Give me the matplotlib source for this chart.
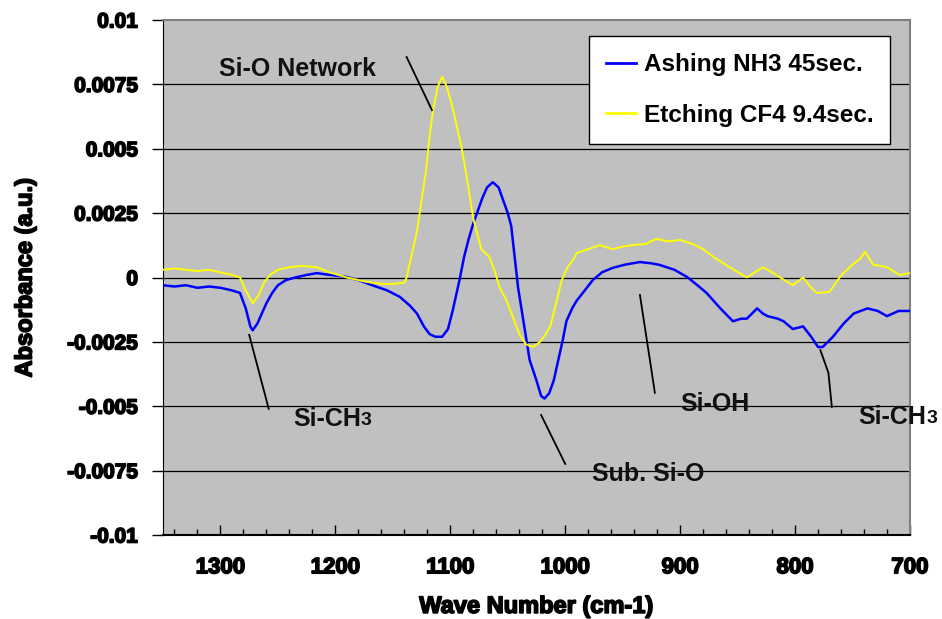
import matplotlib
matplotlib.use("Agg")
import matplotlib.pyplot as plt
import matplotlib.patheffects as pe
import numpy as np

# ── FTIR difference spectra ───────────────────────────────────────────────────
ash_wn = [1350, 1340, 1330, 1320, 1310, 1300, 1290, 1283, 1278, 1274, 1272, 1268,
          1264, 1260, 1255, 1250, 1243, 1235, 1225, 1216, 1205, 1195, 1190, 1180,
          1168, 1155, 1144, 1135, 1129, 1123, 1118, 1113, 1107, 1102, 1098, 1095,
          1092, 1088, 1084, 1080, 1076, 1072, 1068, 1063, 1058, 1054, 1050, 1047,
          1044, 1041, 1036, 1031, 1025, 1021, 1018, 1014, 1010, 1006, 1002, 999,
          994, 990, 983, 976, 968, 959, 948, 935, 925, 918, 905, 894, 885, 877,
          865, 854, 847, 842, 833, 828, 824, 815, 810, 802, 793, 786, 780, 776,
          767, 758, 749, 737, 728, 720, 710, 700]
ash_abs = [-0.0003, -0.00035, -0.0003, -0.0004, -0.00035, -0.0004, -0.0005, -0.0006,
           -0.0012, -0.0019, -0.00205, -0.0018, -0.0014, -0.001, -0.0006, -0.0003,
           -0.0001, 0.0, 0.0001, 0.00017, 0.0001, 0.00005, 0.00002, -0.0001,
           -0.0003, -0.0005, -0.00075, -0.0011, -0.0014, -0.0019, -0.0022, -0.0023,
           -0.0023, -0.002, -0.0013, -0.0007, -0.0001, 0.0008, 0.0015, 0.0021, 0.0026,
           0.0031, 0.0035, 0.0037, 0.0035, 0.003, 0.0025, 0.002, 0.0008, -0.0004,
           -0.0018, -0.0032, -0.004, -0.0046, -0.0047, -0.0045, -0.004, -0.0032,
           -0.0024, -0.0017, -0.0012, -0.0009, -0.0005, -0.0001, 0.0002, 0.00037,
           0.0005, 0.0006, 0.00055, 0.00049, 0.0003, 0.00002, -0.0003, -0.0006,
           -0.0012, -0.0017, -0.0016, -0.0016, -0.0012, -0.0014, -0.0015, -0.0016,
           -0.0017, -0.002, -0.0019, -0.0023, -0.0027, -0.0027, -0.0023, -0.0018,
           -0.0014, -0.0012, -0.0013, -0.0015, -0.0013, -0.0013]

etch_wn = [1350, 1340, 1330, 1320, 1310, 1300, 1290, 1283, 1278, 1272, 1267, 1262,
           1257, 1250, 1240, 1229, 1216, 1205, 1190, 1180, 1173, 1160, 1150, 1140,
           1138, 1134, 1129, 1125, 1121, 1118, 1115, 1111, 1107, 1103, 1098, 1094,
           1090, 1085, 1080, 1076, 1073, 1066, 1061, 1057, 1051, 1045, 1040, 1034,
           1028, 1022, 1017, 1013, 1008, 1003, 998, 993, 990, 980, 970, 959, 950,
           941, 930, 921, 910, 900, 889, 880, 871, 857, 842, 835, 828, 820, 813,
           802, 793, 786, 781, 770, 763, 758, 750, 744, 739, 735, 732, 720, 709, 700]
etch_abs = [0.0003, 0.00035, 0.0003, 0.00025, 0.0003, 0.0002, 0.0001, 0.0, -0.0005,
            -0.001, -0.0007, -0.0002, 0.0001, 0.0003, 0.0004, 0.00045, 0.0004, 0.0002,
            0.0, -0.0001, -0.00017, -0.00025, -0.00025, -0.0002, 0.0, 0.0008, 0.0018,
            0.003, 0.0042, 0.0055, 0.0065, 0.0074, 0.0078, 0.0074, 0.0066, 0.0058,
            0.005, 0.0037, 0.0023, 0.0016, 0.0011, 0.0008, 0.0002, -0.0004, -0.0009,
            -0.0016, -0.0022, -0.0026, -0.0027, -0.0025, -0.0022, -0.0019, -0.001,
            -0.0001, 0.0004, 0.0007, 0.00095, 0.0011, 0.00126, 0.0011, 0.0012, 0.00126,
            0.0013, 0.0015, 0.0014, 0.00146, 0.0013, 0.0011, 0.0008, 0.0004, 0.0,
            0.0002, 0.0004, 0.0002, 0.0, -0.0003, 0.0, -0.0004, -0.0006, -0.00056,
            -0.0001, 0.00017, 0.0005, 0.0007, 0.001, 0.0007, 0.0005, 0.0004, 0.0001,
            0.00017]

series_labels = ["Ashing NH3 45sec.", "Etching CF4 9.4sec."]
x_ticks = [1300, 1200, 1100, 1000, 900, 800, 700]
y_ticks = [0.01, 0.0075, 0.005, 0.0025, 0, -0.0025, -0.005, -0.0075, -0.01]
y_tick_labels = ["0.01", "0.0075", "0.005", "0.0025", "0",
                 "-0.0025", "-0.005", "-0.0075", "-0.01"]

plt.rcParams["font.family"] = ["Liberation Sans", "DejaVu Sans"]
heavy = [pe.withStroke(linewidth=1.2, foreground="black")]

fig = plt.figure(figsize=(9.42, 6.19), dpi=100)
ax = fig.add_axes([163 / 942, 1 - 535 / 619, 747 / 942, 515 / 619])
ax.set_facecolor("#C0C0C0")

for y in y_ticks[1:-1]:
    ax.axhline(y, color="black", lw=0.9, zorder=1)

ax.plot(ash_wn, ash_abs, color="#0000FF", lw=1.8, label=series_labels[0], zorder=3)
ax.plot(etch_wn, etch_abs, color="#FFFF00", lw=1.4, label=series_labels[1], zorder=3)

ax.set_xlim(1350, 700)
ax.set_ylim(-0.01, 0.01)

ax.set_xticks(x_ticks)
ax.set_xticks(np.arange(700, 1351, 20), minor=True)
ax.tick_params(axis="x", which="major", direction="in", length=7, width=1, pad=16,
               labelsize=16)
ax.tick_params(axis="x", which="minor", direction="in", length=4, width=1)
ax.set_yticks(y_ticks, y_tick_labels)
ax.tick_params(axis="y", direction="out", length=8, width=1, pad=10, labelsize=15)
for lab in ax.get_xticklabels() + ax.get_yticklabels():
    lab.set_fontweight("bold")
    lab.set_path_effects(heavy)

ax.spines["left"].set_color("black")
ax.spines["bottom"].set_color("black")
ax.spines["bottom"].set_linewidth(1.5)
ax.spines["top"].set_color("#808080")
ax.spines["right"].set_color("#808080")
ax.spines["top"].set_linewidth(1.5)
ax.spines["right"].set_linewidth(1.5)

ax.set_xlabel("Wave Number (cm-1)", fontsize=17, fontweight="bold", labelpad=12,
              path_effects=heavy)
ax.set_ylabel("Absorbance (a.u.)", fontsize=17, fontweight="bold", labelpad=22,
              path_effects=heavy)

leg = ax.legend(loc="upper left", bbox_to_anchor=(589 / 942, 1 - 36 / 619),
                bbox_transform=fig.transFigure, borderaxespad=0, frameon=True,
                fancybox=False, edgecolor="black", facecolor="white", framealpha=1,
                prop={"size": 17.5, "weight": "bold"}, handlelength=1.25,
                handletextpad=0.3, borderpad=0.7, labelspacing=1.15)
leg.get_frame().set_linewidth(1.0)
for line in leg.get_lines():
    line.set_linewidth(2.0)

# ── Peak assignments with leader lines ───────────────────────────────────────
note = dict(fontsize=18, fontweight="bold", color="#111111", va="center", ha="left",
            zorder=5)
lead = dict(color="black", lw=1.3, zorder=4, clip_on=False)

ax.text(1301, 0.0081, "Si-O Network", **note)
ax.plot([1138, 1116], [0.00856, 0.0065], **lead)

t1 = ax.text(1237, -0.0055, "Si-CH", **note)
ax.annotate("3", xy=(1, 0.08), xycoords=t1, va="bottom", ha="left",
            fontsize=14, fontweight="bold", color="#111111")
ax.plot([1275, 1258], [-0.00223, -0.0051], **lead)

ax.text(977, -0.00763, "Sub. Si-O", **note)
ax.plot([1021, 1000], [-0.00534, -0.00724], **lead)

ax.text(900, -0.0049, "Si-OH", **note)
ax.plot([935, 926, 922], [-0.00068, -0.0033, -0.00448], **lead)

t2 = ax.text(745, -0.00542, "Si-CH", **note)
ax.annotate("3", xy=(1, 0.08), xycoords=t2, va="bottom", ha="left",
            fontsize=14, fontweight="bold", color="#111111")
ax.plot([778, 771, 768], [-0.00282, -0.0037, -0.00503], **lead)

fig.savefig("out.png", dpi=100, facecolor="white")
